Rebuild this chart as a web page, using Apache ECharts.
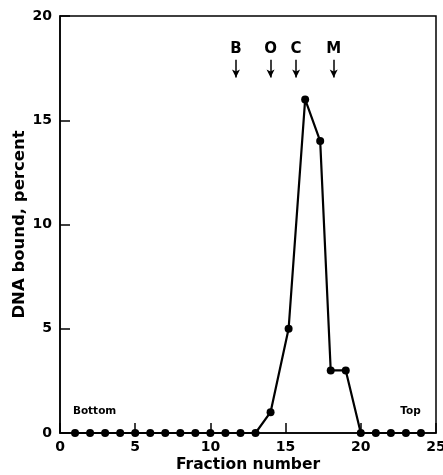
<!DOCTYPE html>
<html>
<head>
<meta charset="utf-8">
<script src="https://cdn.jsdelivr.net/npm/echarts@6/dist/echarts.min.js"></script>
<style>
  html, body { margin: 0; padding: 0; background: #fff; }
  #chart { width: 443px; height: 475px; }
</style>
</head>
<body>
<div id="chart"></div>
<script>
// fraction positions as plotted, and percent of DNA bound
const fractions = [1, 2, 3, 4, 5, 6, 7, 8, 9, 10, 11, 12, 13, 14, 15.2, 16.3, 17.3, 18, 19, 20, 21, 22, 23, 24]
const boundPct = [0, 0, 0, 0, 0, 0, 0, 0, 0, 0, 0, 0, 0, 1, 5, 16, 14, 3, 3, 0, 0, 0, 0, 0]

// marker arrows (B, O, C, M) above the peak
const markerNames = ["B", "O", "C", "M"]
const markerFractions = [11.7, 14.0, 15.7, 18.2]
const markerLabelY = 18.4
const markerArrowTop = 17.9
const markerArrowTip = 17.05

// end labels
const endNames = ["Bottom", "Top"]
const endFractions = [2.3, 23.3]
const endY = 1.05

const xTicks = [0, 5, 10, 15, 20, 25]
const yTicks = [0, 5, 10, 15, 20]

const font = "DejaVu Sans"
const chart = echarts.init(document.getElementById("chart"))

const option = {
    backgroundColor: "#fff",
    animation: false,
    grid: {
        left: 60, right: 7, top: 16, bottom: 42,
        outerBoundsMode: "none",
        containLabel: false,
        show: true, borderColor: "#000", borderWidth: 1.5
    },
    xAxis: {
        type: "value",
        min: xTicks[0], max: xTicks[xTicks.length - 1], interval: 5,
        name: "Fraction number",
        nameLocation: "middle",
        nameGap: 24,
        nameMoveOverlap: false,
        nameTextStyle: { fontFamily: font, fontWeight: "bold", fontSize: 15.5, color: "#000" },
        axisLine: { show: true, lineStyle: { color: "#000", width: 1.5 } },
        axisTick: { show: true, inside: true, length: 10, lineStyle: { color: "#000", width: 1.5 } },
        axisLabel: { fontFamily: font, fontWeight: "bold", fontSize: 14, color: "#000", margin: 7 },
        splitLine: { show: false }
    },
    yAxis: {
        type: "value",
        min: yTicks[0], max: yTicks[yTicks.length - 1], interval: 5,
        name: "DNA bound, percent",
        nameLocation: "middle",
        nameGap: 32,
        nameMoveOverlap: false,
        nameTextStyle: { fontFamily: font, fontWeight: "bold", fontSize: 16.5, color: "#000" },
        axisLine: { show: true, lineStyle: { color: "#000", width: 1.5 } },
        axisTick: { show: true, inside: true, length: 10, lineStyle: { color: "#000", width: 1.5 } },
        axisLabel: { fontFamily: font, fontWeight: "bold", fontSize: 14, color: "#000", margin: 8 },
        splitLine: { show: false }
    },
    series: [
        {
            type: "line",
            data: fractions.map((f, i) => [f, boundPct[i]]),
            symbol: "circle",
            symbolSize: 8,
            itemStyle: { color: "#000" },
            lineStyle: { color: "#000", width: 2.2 },
            z: 3
        },
        {
            type: "scatter",
            symbolSize: 0,
            itemStyle: { color: "#000", opacity: 1 },
            data: markerFractions.map((f, i) => ({ value: [f, markerLabelY], name: markerNames[i] })),
            label: {
                show: true, position: "inside", formatter: "{b}",
                fontFamily: font, fontWeight: "bold", fontSize: 15, color: "#000", opacity: 1
            },
            markLine: {
                silent: true,
                symbol: ["none", "arrow"],
                symbolSize: [6, 8],
                label: { show: false },
                lineStyle: { color: "#000", width: 1.5, type: "solid", opacity: 1 },
                data: markerFractions.map(f => [
                    { coord: [f, markerArrowTop] },
                    { coord: [f, markerArrowTip] }
                ])
            }
        },
        {
            type: "scatter",
            symbolSize: 0,
            itemStyle: { color: "#000", opacity: 1 },
            data: endFractions.map((f, i) => ({ value: [f, endY], name: endNames[i] })),
            label: {
                show: true, position: "inside", formatter: "{b}",
                fontFamily: font, fontWeight: "bold", fontSize: 10.5, color: "#000", opacity: 1
            }
        }
    ]
}

chart.setOption(option)
</script>
</body>
</html>
